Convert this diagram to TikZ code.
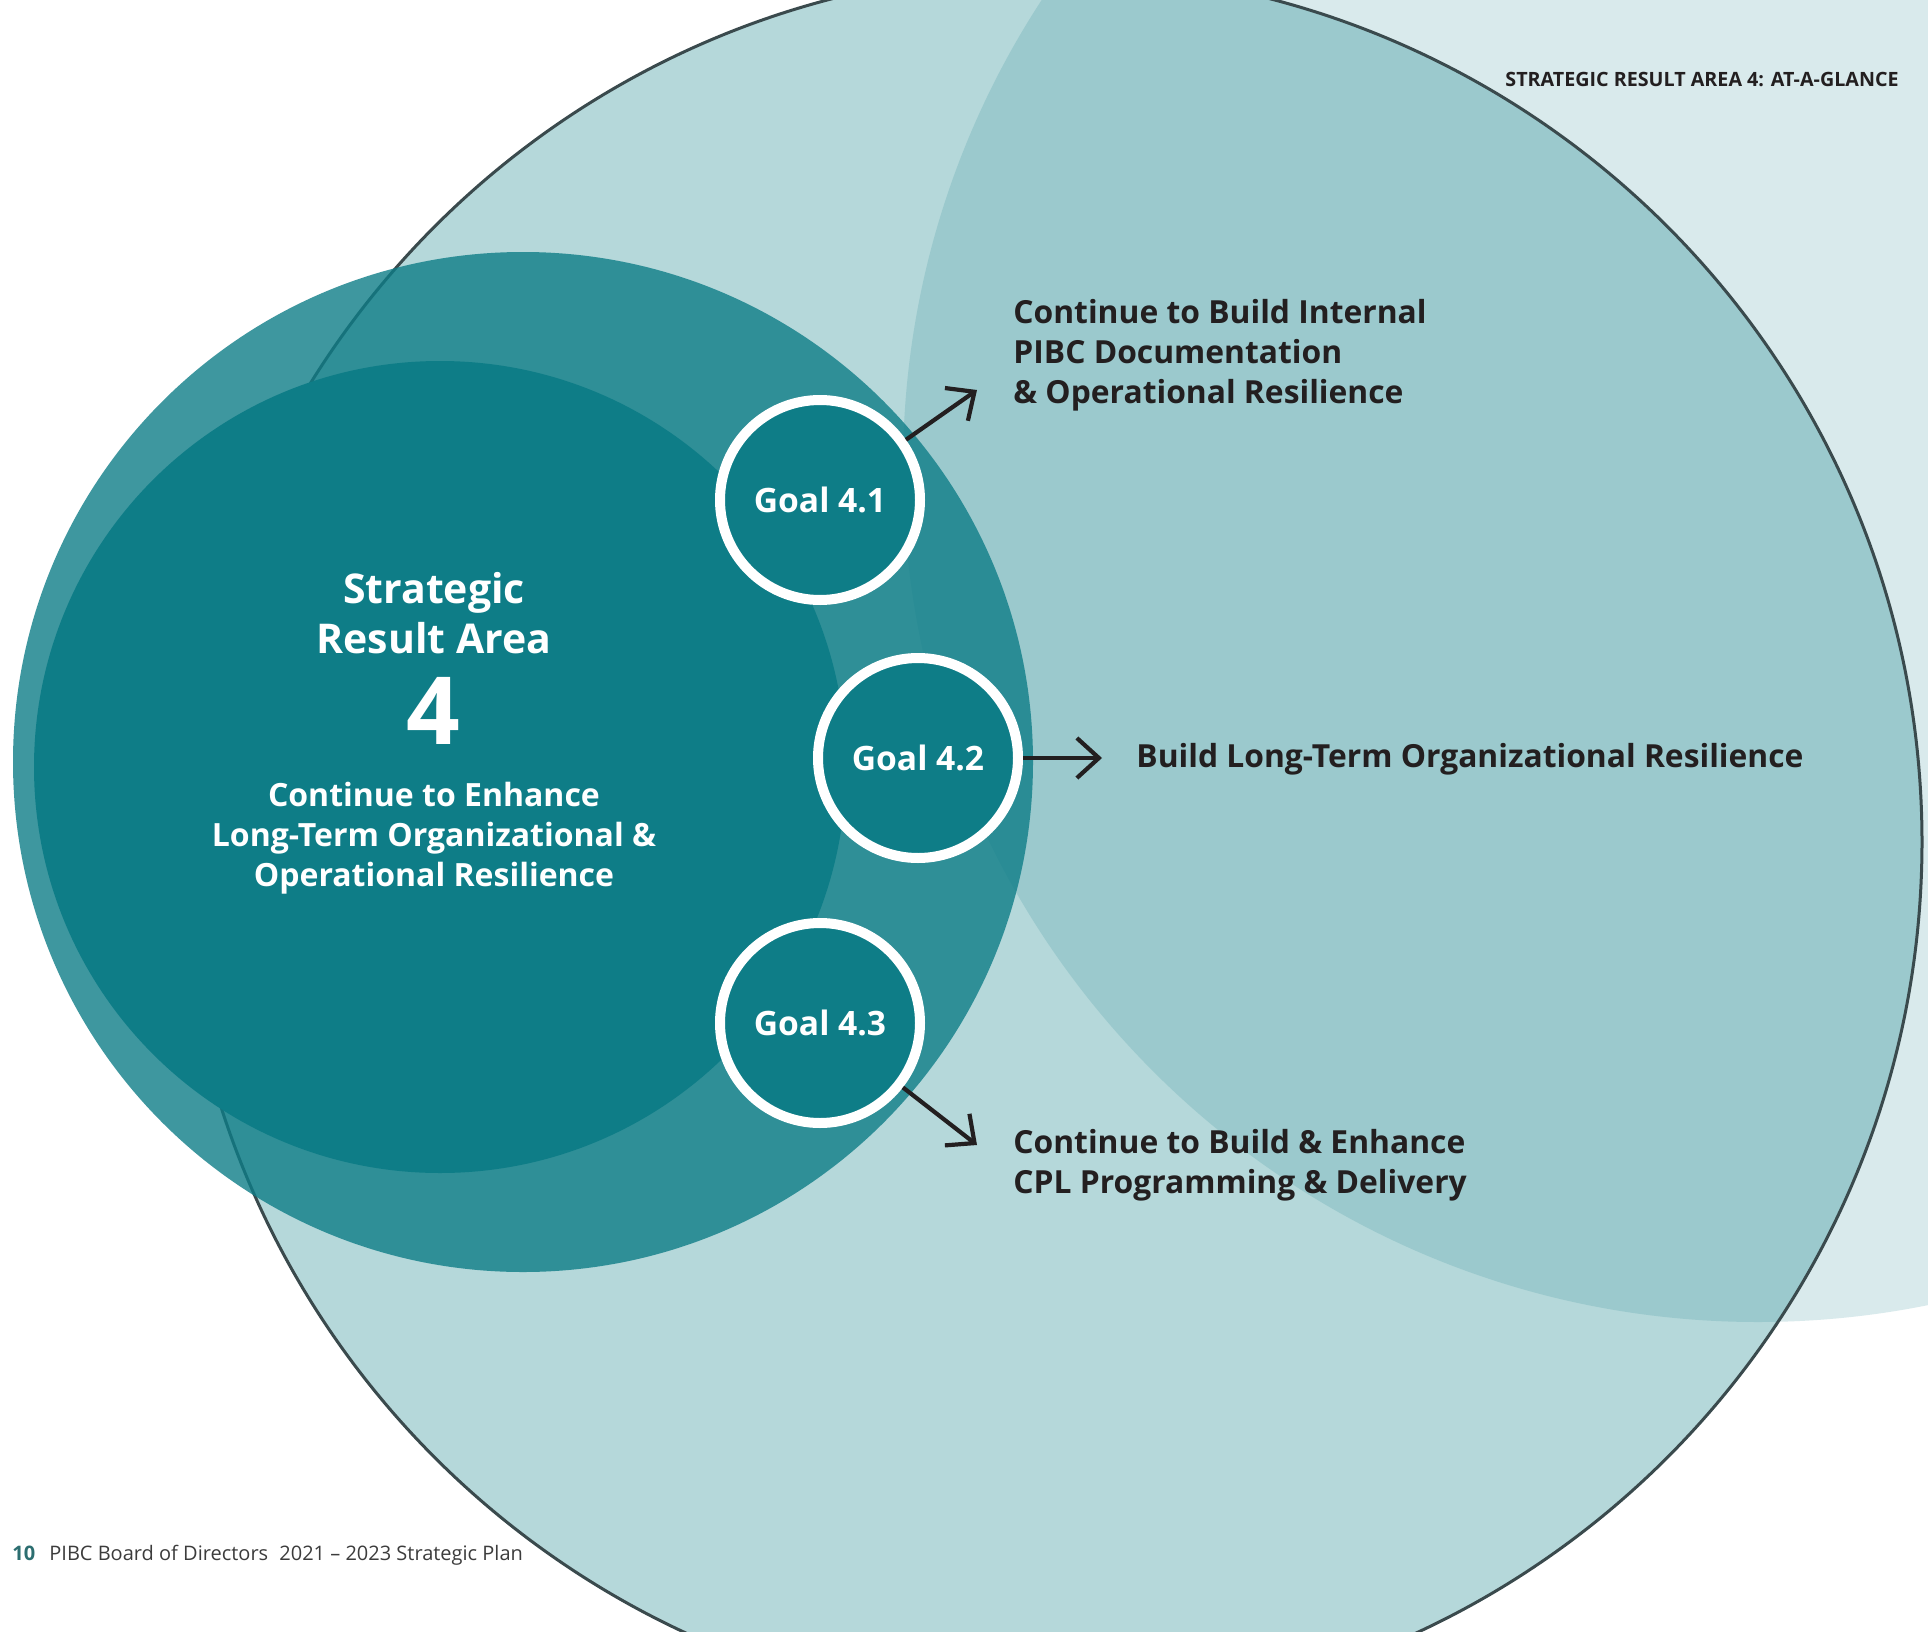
\documentclass[tikz,border=0pt]{standalone}
\usepackage{fontspec}
\setmainfont{Open Sans}
\usetikzlibrary{arrows.meta}
\definecolor{bglight}{HTML}{D9EAEC}
\definecolor{bigfill}{HTML}{B5D8DA}
\definecolor{overlapc}{HTML}{9BC9CD}
\definecolor{tealdark}{HTML}{0E7D87}
\definecolor{outlinec}{HTML}{3A4A4D}
\definecolor{ink}{HTML}{231F20}
\definecolor{footteal}{HTML}{2C6E70}
\definecolor{footgray}{HTML}{3C3C3C}
\begin{document}
\begin{tikzpicture}[x=0.5pt,y=-0.5pt,
  goal/.style={circle, draw=white, line width=5pt, fill=tealdark, minimum size=100pt, inner sep=0pt, text=white, font=\fontsize{16.8}{18}\selectfont\bfseries},
  conn/.style={draw=ink, line width=2.1pt, -{Straight Barb[length=11pt,width=20pt]}},
  rtext/.style={anchor=base west, inner sep=0pt, text=ink, font=\fontsize{15.9}{20.2}\selectfont\bfseries},
  ctitle/.style={anchor=base, inner sep=0pt, text=white, font=\fontsize{20.5}{25}\selectfont\bfseries},
  cnum/.style={anchor=base, inner sep=0pt, text=white, font=\fontsize{47}{50}\selectfont\bfseries},
  cdesc/.style={anchor=base, inner sep=0pt, text=white, font=\fontsize{16}{20}\selectfont\bfseries},
  header/.style={anchor=base east, inner sep=0pt, text=ink, font=\fontsize{9.85}{12}\selectfont\bfseries},
  footnum/.style={anchor=base west, inner sep=0pt, text=footteal, font=\fontsize{10}{12}\selectfont\bfseries},
  foottext/.style={anchor=base west, inner sep=0pt, text=footgray, font=\fontsize{10}{12}\selectfont}
]
\useasboundingbox (0,0) rectangle (1928,1632);
\begin{scope}
  \clip (0,0) rectangle (1928,1632);
  \fill[white] (0,0) rectangle (1928,1632);
  \fill[bglight] (1758,467) circle[radius=427.5pt];
  \fill[bigfill] (1051,842) circle[radius=435.5pt];
  \begin{scope}
    \clip (1051,842) circle[radius=435.5pt];
    \fill[overlapc] (1758,467) circle[radius=427.5pt];
  \end{scope}
  \draw[outlinec, line width=1.5pt] (1051,842) circle[radius=435.5pt];
  \fill[tealdark, opacity=0.8] (523,762) circle[radius=255pt];
  \fill[tealdark] (440,767) circle[radius=203pt];
\end{scope}

\node[goal] (g1) at (820,500) {Goal 4.1};
\node[goal] (g2) at (918,758) {Goal 4.2};
\node[goal] (g3) at (820,1023) {Goal 4.3};

\coordinate (t1) at (977,390);
\coordinate (t2) at (1102,758);
\coordinate (t3) at (977,1145);
\draw[conn] (g1) -- (t1);
\draw[conn] (g2) -- (t2);
\draw[conn] (g3) -- (t3);

\node[rtext] (r1) at (1013,323) {\parbox[t]{500pt}{\raggedright Continue to Build Internal\\PIBC Documentation\\\& Operational Resilience}};
\node[rtext] (r2) at (1136,767) {Build Long-Term Organizational Resilience};
\node[rtext] (r3) at (1013,1153) {\parbox[t]{500pt}{\raggedright Continue to Build \& Enhance\\CPL Programming \& Delivery}};

\node[ctitle] (title) at (434,603) {\parbox[t]{300pt}{\centering Strategic\\Result Area}};
\node[cnum] (num) at (433,744) {4};
\node[cdesc] (desc) at (434,806) {\parbox[t]{300pt}{\centering Continue to Enhance\\Long-Term Organizational \&\\Operational Resilience}};

\node[header] (head) at (1899,87) {STRATEGIC RESULT AREA 4: AT-A-GLANCE};
\node[footnum] (fnum) at (12,1560) {10};
\node[foottext] (ftext) at (49,1560) {PIBC Board of Directors\hspace{0.3em} 2021 – 2023 Strategic Plan};
\end{tikzpicture}
\end{document}
